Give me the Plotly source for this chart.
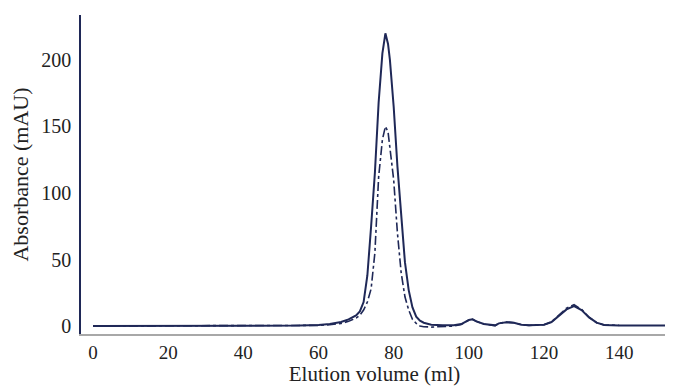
import plotly.graph_objects as go

# Elution volume (ml) and absorbance (mAU)
solid_x = [0, 10, 20, 30, 40, 50, 55, 60, 63, 66, 68, 70, 71, 72, 73, 74, 75, 76, 77, 77.8,
           78.5, 79, 80, 81, 82, 83, 84, 85, 86, 87, 88, 90, 93, 96, 98, 100, 101, 102, 104,
           106, 107, 108, 110, 112, 114, 116, 118, 120, 122, 124, 126, 128, 130, 132, 134,
           136, 138, 140, 145, 152.5]
solid_y = [0, 0, 0, 0, 0, 0.2, 0.3, 0.8, 1.5, 3, 5, 8, 11, 18, 38, 75, 115, 168, 205, 220,
           212, 200, 165, 120, 80, 48, 27, 14, 7, 4, 2.5, 1, 0.5, 0.5, 1.5, 4.5, 5, 3.5, 1.5,
           1.2, 0.5, 2, 2.8, 2.5, 1, 0.5, 0.5, 1, 3, 7.5, 12.5, 15, 12, 6.5, 2.5,
           0.8, 0.5, 0.3, 0.3, 0.3]

dash_x = [0, 10, 20, 30, 40, 50, 55, 60, 63, 66, 68, 70, 71, 72, 73, 74, 75, 76, 77, 77.8,
          78.5, 79, 80, 81, 82, 83, 84, 85, 86, 87, 88, 90, 93, 96, 98, 100, 101, 102, 104,
          106, 107, 108, 110, 112, 114, 116, 118, 120, 122, 124, 126, 128, 130, 132, 134,
          136, 138, 140]
dash_y = [0, 0, 0, 0, 0, 0, 0.1, 0.5, 1, 2, 3.5, 6, 8, 12, 18, 28, 55, 112, 140, 150,
          146, 135, 110, 70, 40, 22, 12, 5, 2, 0, -0.5, -0.8, -0.5, 0, 1.2, 4.5, 5, 3.5, 1.5,
          1, 0.3, 2, 3, 2.5, 1, 0.5, 0.5, 1, 3, 8, 13.5, 16, 12.5, 6.5, 2.5,
          0.8, 0.5, 0.5]

x_ticks = [0, 20, 40, 60, 80, 100, 120, 140]
y_ticks = [0, 50, 100, 150, 200]

navy = "#1f2857"
font_family = "Liberation Serif, Times New Roman, serif"

fig = go.Figure()
fig.add_trace(go.Scatter(x=dash_x, y=dash_y, mode="lines",
                         line=dict(color=navy, width=1.6, dash="dashdot"),
                         showlegend=False))
fig.add_trace(go.Scatter(x=solid_x, y=solid_y, mode="lines",
                         line=dict(color=navy, width=2),
                         showlegend=False))

# the page body adds an 8px offset, so the figure is sized to the remaining window
fig.update_layout(
    width=665, height=378,
    margin=dict(l=73, r=5, t=7, b=52),
    paper_bgcolor="white", plot_bgcolor="white",
    font=dict(family=font_family, size=20, color="#222222"),
    xaxis=dict(range=[-3.2, 153], tickvals=x_ticks, showgrid=False, zeroline=False,
               showline=True, linecolor="#a8a8a8", linewidth=1.5, ticks="", ticklen=0,
               ticklabelstandoff=0, automargin=False, tickfont=dict(size=19),
               title=dict(text="Elution volume (ml)", font=dict(size=21), standoff=9)),
    yaxis=dict(range=[-6, 233.8], tickvals=y_ticks, showgrid=False, zeroline=False,
               showline=True, linecolor=navy, linewidth=1.5, ticks="", ticklen=0,
               ticklabelstandoff=4, automargin=False,
               title=dict(text="Absorbance (mAU)", font=dict(size=22), standoff=8)),
)

fig.write_html("out.html")
